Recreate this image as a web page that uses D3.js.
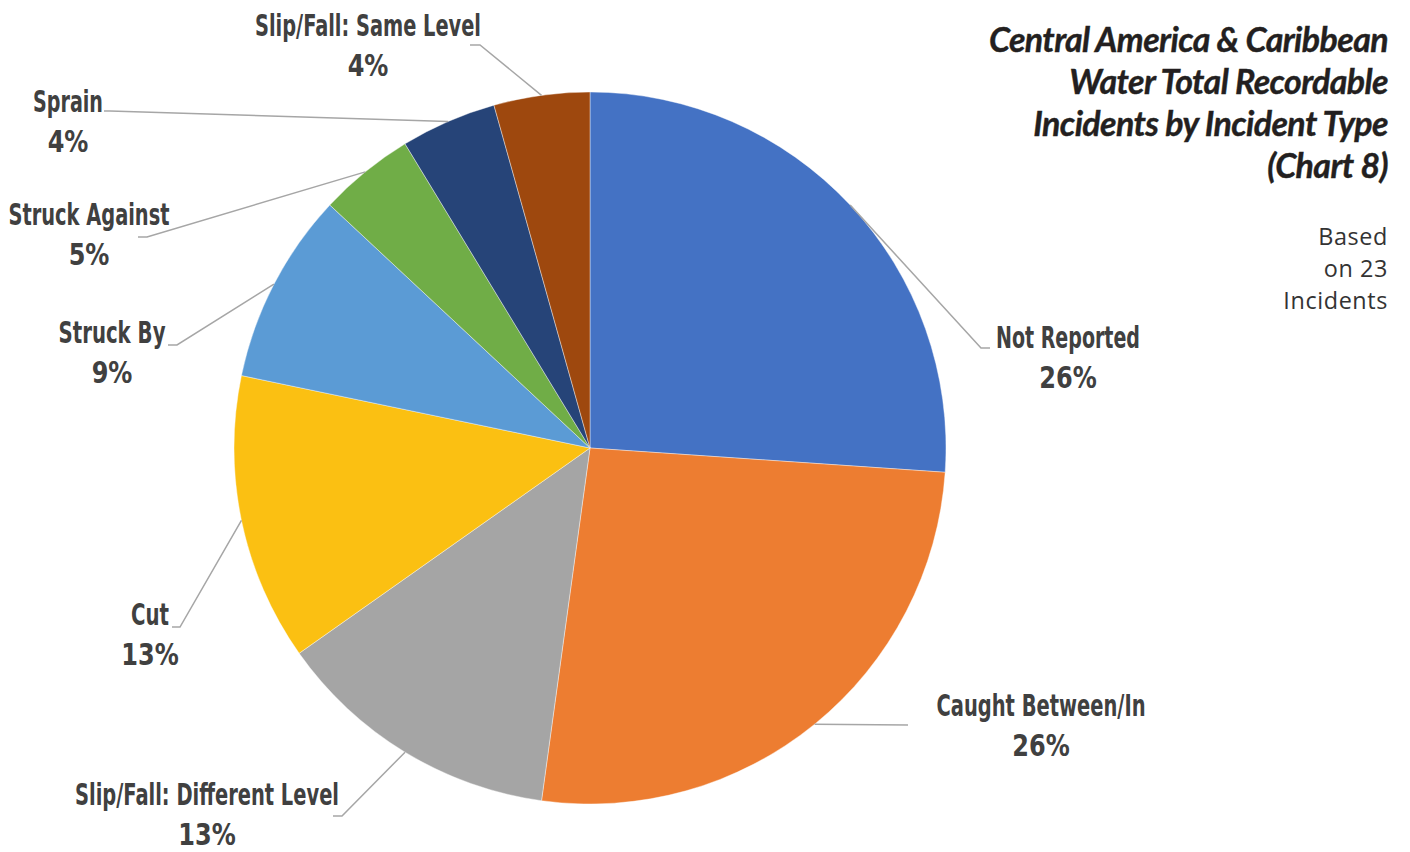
<!DOCTYPE html>
<html><head><meta charset="utf-8">
<script src="https://cdn.jsdelivr.net/npm/d3@7"></script>
<style>
html,body{margin:0;padding:0;background:#fff;}
svg{display:block;}
</style></head>
<body>
<svg id="chart" width="1410" height="852"></svg>
<script>
// ---- data ----
const categories = ["Not Reported","Caught Between/In","Slip/Fall: Different Level","Cut","Struck By","Struck Against","Sprain","Slip/Fall: Same Level"];
const counts = [6,6,3,3,2,1,1,1];
const pctLabels = ["26%","26%","13%","13%","9%","5%","4%","4%"];
const colors = ["#4472C4","#ED7D31","#A5A5A5","#FBC012","#5B9BD5","#70AD47","#264478","#9E480E"];
const titleLines = ["Central America & Caribbean","Water Total Recordable","Incidents by Incident Type","(Chart 8)"];
const noteLines = ["Based","on 23","Incidents"];

// ---- layout (label placement, not data) ----
const labelLayout = [
  {cx:1068, y:348, ex:981, ey:348, hx:990},
  {cx:1041, y:716, ex:908, ey:725, hx:908},
  {cx:207,  y:805, ex:342, ey:816, hx:333},
  {cx:150,  y:625, ex:180, ey:627, hx:172},
  {cx:112,  y:343, ex:177, ey:345, hx:168},
  {cx:89,   y:225, ex:147, ey:237, hx:138},
  {cx:68,   y:112, ex:110, ey:111, hx:104},
  {cx:368,  y:36,  ex:480, ey:45,  hx:470}
];
const labelWidths = [144,209,264,38,107,161,70,226];

const svg = d3.select("#chart");
const cx = 590, cy = 448, R = 356;

const pie = d3.pie().sort(null).value(d => d.v);
const arcs = pie(categories.map((c,i) => ({c, v:counts[i], i})));
const arc = d3.arc().innerRadius(0).outerRadius(R);

const g = svg.append("g").attr("transform", `translate(${cx},${cy})`);
g.selectAll("path.slice").data(arcs).enter().append("path")
  .attr("class","slice")
  .attr("d", arc)
  .attr("fill", d => colors[d.data.i])
  .attr("stroke","#fff").attr("stroke-width",0.4);

// leader lines
svg.selectAll("path.leader").data(arcs).enter().append("path")
  .attr("class","leader")
  .attr("d", d => {
    const a = (d.startAngle + d.endAngle)/2;
    const sx = cx + R*Math.sin(a), sy = cy - R*Math.cos(a);
    const L = labelLayout[d.data.i];
    return `M${sx},${sy}L${L.ex},${L.ey}L${L.hx},${L.ey}`;
  })
  .attr("fill","none").attr("stroke","#A6A6A6").attr("stroke-width",1.5);

// labels
const labFont = "'Liberation Sans Narrow','DejaVu Sans Condensed','Arial Narrow',sans-serif";
const lg = svg.selectAll("g.lab").data(arcs).enter().append("g").attr("class","lab");
lg.append("text")
  .attr("x", d => labelLayout[d.data.i].cx)
  .attr("y", d => labelLayout[d.data.i].y)
  .attr("text-anchor","middle")
  .attr("font-family", labFont).attr("font-weight","bold").attr("font-size",31)
  .attr("fill","#404040")
  .attr("textLength", d => labelWidths[d.data.i])
  .attr("lengthAdjust","spacingAndGlyphs")
  .text(d => d.data.c);
lg.append("text")
  .attr("x", d => labelLayout[d.data.i].cx)
  .attr("y", d => labelLayout[d.data.i].y + 40)
  .attr("text-anchor","middle")
  .attr("font-family", labFont).attr("font-weight","bold").attr("font-size",31)
  .attr("fill","#404040")
  .text(d => pctLabels[d.data.i])
  .each(function(){
    const w = this.getComputedTextLength();
    d3.select(this).attr("textLength", w*0.86).attr("lengthAdjust","spacingAndGlyphs");
  });

// title
const tt = svg.append("g").selectAll("text").data(titleLines).enter().append("text")
  .attr("x",1388).attr("y",(d,i)=>52+i*42)
  .attr("text-anchor","end")
  .attr("font-family","Lato, 'Open Sans', sans-serif")
  .attr("font-style","italic").attr("font-weight","bold")
  .attr("font-size",32).attr("letter-spacing","-0.6")
  .attr("fill","#231F20")
  .attr("stroke","#231F20").attr("stroke-width",0.4)
  .text(d=>d);
const w0 = tt.nodes()[0].getComputedTextLength();
tt.attr("font-size", 32*398/w0);

svg.append("g").selectAll("text").data(noteLines).enter().append("text")
  .attr("x",1388).attr("y",(d,i)=>245+i*32)
  .attr("text-anchor","end")
  .attr("font-family","'Open Sans', sans-serif")
  .attr("font-size",23.4).attr("letter-spacing","0.6")
  .attr("fill","#333333")
  .text(d=>d);
</script>
</body></html>
